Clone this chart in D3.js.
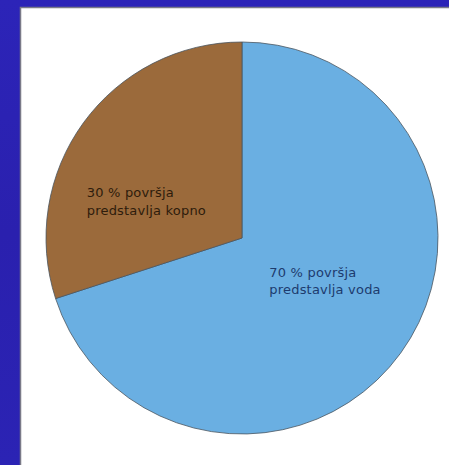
<!DOCTYPE html>
<html>
<head>
<meta charset="utf-8">
<script src="https://cdn.jsdelivr.net/npm/d3@7"></script>
<style>
  body { margin: 0; background: #2a22b2; }
  svg { display: block; }
</style>
</head>
<body>
<svg width="449" height="465"></svg>
<script>
var labels = ["70 % površja|predstavlja voda", "30 % površja|predstavlja kopno"];
var values = [70, 30];
var colors = ["#6aafe2", "#9b6a3b"];
var textColors = ["#1d3b6e", "#2e1c0c"];

var svg = d3.select("svg"),
    width = +svg.attr("width"),
    height = +svg.attr("height");

var defs = svg.append("defs");
var grad = defs.append("linearGradient")
    .attr("id", "bg")
    .attr("x1", 0).attr("y1", 0).attr("x2", 0).attr("y2", 1);
grad.append("stop").attr("offset", "0%").attr("stop-color", "#2c24b8");
grad.append("stop").attr("offset", "50%").attr("stop-color", "#2a20ae");
grad.append("stop").attr("offset", "100%").attr("stop-color", "#2b23b4");

svg.append("rect")
    .attr("width", width)
    .attr("height", height)
    .attr("fill", "url(#bg)");

// white slide panel
svg.append("rect")
    .attr("x", 20.5)
    .attr("y", 7.5)
    .attr("width", width)
    .attr("height", height)
    .attr("fill", "#ffffff")
    .attr("stroke", "#7a7a88")
    .attr("stroke-width", 1.5);

var cx = 242, cy = 238, r = 196;

var g = svg.append("g")
    .attr("transform", "translate(" + cx + "," + cy + ")");

var pie = d3.pie().sort(null).value(function(d) { return d; });
var arc = d3.arc().innerRadius(0).outerRadius(r);
var labelArc = d3.arc().innerRadius(r * 0.5).outerRadius(r * 0.5);

var arcs = pie(values);

g.selectAll("path")
    .data(arcs)
  .enter().append("path")
    .attr("d", arc)
    .attr("fill", function(d, i) { return colors[i]; })
    .attr("stroke", "#4a5560")
    .attr("stroke-width", 0.8);

var nudge = [[-52, -19], [-76, 17]];

var lab = g.selectAll("text.lab")
    .data(arcs)
  .enter().append("text")
    .attr("class", "lab")
    .attr("font-family", "DejaVu Sans, Verdana, sans-serif")
    .attr("font-size", 13)
    .attr("letter-spacing", 0.2)
    .attr("fill", function(d, i) { return textColors[i]; })
    .attr("transform", function(d, i) {
      var c = labelArc.centroid(d);
      return "translate(" + (c[0] + nudge[i][0]) + "," + (c[1] + nudge[i][1]) + ")";
    });

lab.selectAll("tspan")
    .data(function(d, i) { return labels[i].split("|"); })
  .enter().append("tspan")
    .attr("x", 0)
    .attr("dy", function(d, j) { return j ? 17.5 : 0; })
    .text(function(d) { return d; });
</script>
</body>
</html>
